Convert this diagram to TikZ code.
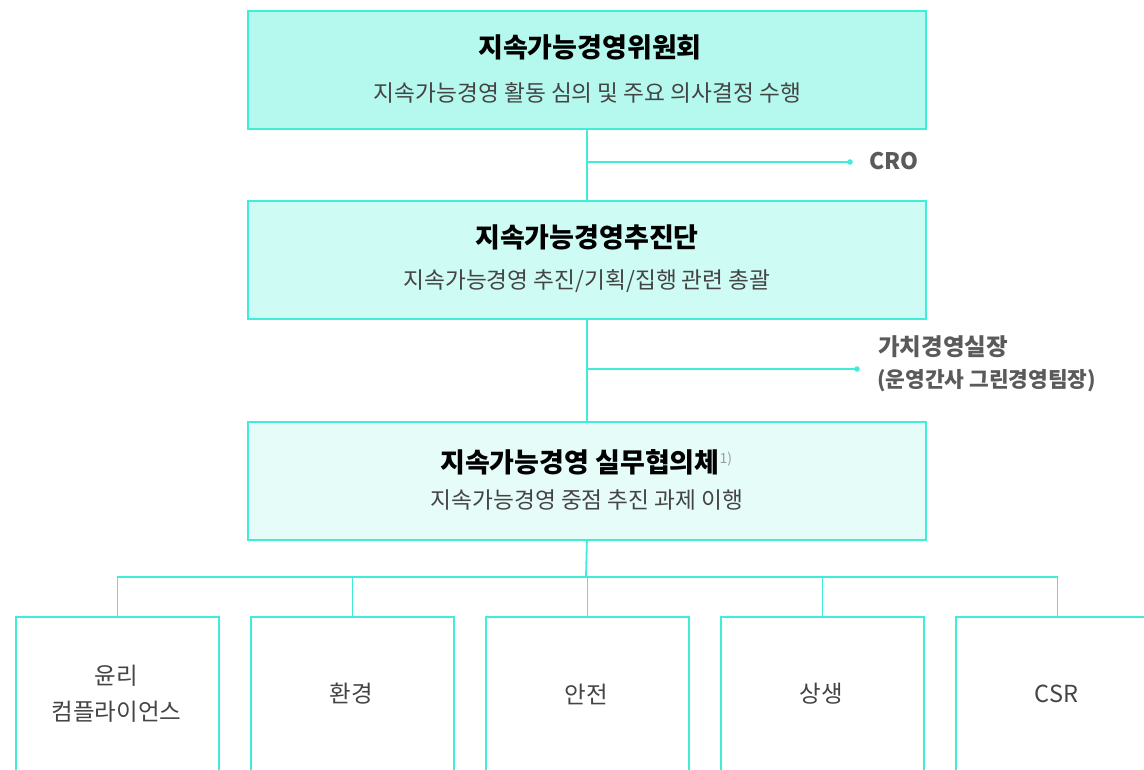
\documentclass[tikz,border=0pt]{standalone}
\usepackage{fontspec}
\setmainfont{Noto Sans CJK KR}
\newfontfamily\kr{Noto Sans CJK KR}
\definecolor{teal1}{HTML}{40EDD8}
\definecolor{fillA}{HTML}{B5F8EE}
\definecolor{fillB}{HTML}{CEFBF4}
\definecolor{fillC}{HTML}{E6FCF9}
\definecolor{txtgray}{HTML}{444444}
\definecolor{lblgray}{HTML}{5A5A5A}
\tikzset{
  mainbox/.style={draw=teal1, line width=1.8pt, minimum width=678pt, minimum height=118pt, inner sep=0pt, anchor=north west},
  subbox/.style={draw=teal1, line width=1.8pt, fill=white, minimum width=203pt, minimum height=156pt, inner sep=0pt, anchor=north west},
  conn/.style={draw=teal1, line width=1.8pt},
  ttl/.style={font=\kr\bfseries\fontsize{27}{30}\selectfont, text=black, inner sep=0pt},
  sub/.style={font=\kr\fontsize{22.7}{26}\selectfont, text=txtgray, inner sep=0pt},
  btxt/.style={font=\kr\fontsize{23.5}{26}\selectfont, text=txtgray, inner sep=0pt},
  lbl/.style={font=\kr\bfseries\fontsize{22.8}{26}\selectfont, text=lblgray, inner sep=0pt, anchor=west},
  dotmark/.style={fill=teal1, draw=none}
}
\begin{document}
\begin{tikzpicture}[x=1pt,y=-1pt]
\useasboundingbox (0,0) rectangle (1144,769);
\clip (0,0) rectangle (1144,769);
% main boxes
\node[mainbox, fill=fillA] (t1) at (247,10) {};
\node[mainbox, fill=fillB] (t2) at (247,200) {};
\node[mainbox, fill=fillC] (t3) at (247,421) {};
% texts
\node[ttl] (t1a) at (590,47) {지속가능경영위원회};
\node[sub] (t1b) at (587.5,93) {지속가능경영 활동 심의 및 주요 의사결정 수행};
\node[ttl] (t2a) at (587,237) {지속가능경영추진단};
\node[sub] (t2b) at (587,281) {지속가능경영 추진/기획/집행 관련 총괄};
\node[ttl, anchor=west] (t3a) at (440,462) {지속가능경영 실무협의체\textsuperscript{\normalfont\color{lblgray!60}\fontsize{14}{15}\selectfont 1)}};
\node[sub] (t3b) at (587,500) {지속가능경영 중점 추진 과제 이행};
% connectors between main boxes
\draw[conn] (t1.south) -- (t2.north);
\draw[conn] (t2.south) -- (t3.north);
% CRO branch
\coordinate (crodot) at (850,162);
\draw[conn] (crodot -| t1.south) -- (crodot);
\fill[dotmark] (crodot) circle (2.8);
\node[lbl] (cro) at (869,161) {CRO};
% second branch
\coordinate (vdot) at (857,369);
\draw[conn] (vdot -| t2.south) -- (vdot);
\fill[dotmark] (vdot) circle (2.8);
\node[lbl, font=\kr\bfseries\fontsize{23.5}{26}\selectfont] (v1) at (878,347) {가치경영실장};
\node[lbl, font=\kr\bfseries\fontsize{21.4}{24}\selectfont] (v2) at (877,381) {(운영간사 그린경영팀장)};
% bottom boxes
\node[subbox] (b1) at (15,616) {};
\node[subbox] (b2) at (250,616) {};
\node[subbox] (b3) at (485,616) {};
\node[subbox] (b4) at (720,616) {};
\node[subbox] (b5) at (955,616) {};
\node[btxt] (b1a) at (116.5,676) {윤리};
\node[btxt] (b1b) at (116.5,712) {컴플라이언스};
\node[btxt] (b2a) at (351.5,694) {환경};
\node[btxt] (b3a) at (586.5,694) {안전};
\node[btxt] (b4a) at (821.5,694) {상생};
\node[btxt] (b5a) at (1056.5,694) {CSR};
% tree connectors
\coordinate (bar) at (586,577);
\draw[conn] (t3.south) -- (bar);
\draw[conn] (b1.north) |- (b5.north |- bar) -- (b5.north);
\draw[conn] (b2.north) -- (b2.north |- bar);
\draw[conn] (b3.north) -- (b3.north |- bar);
\draw[conn] (b4.north) -- (b4.north |- bar);
\end{tikzpicture}
\end{document}
